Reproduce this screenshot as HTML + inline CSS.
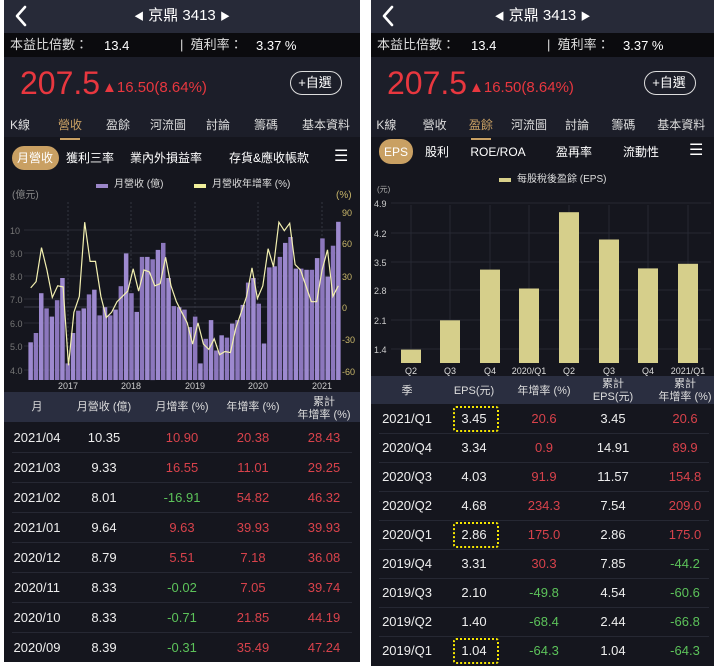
<!DOCTYPE html>
<html><head><meta charset="utf-8">
<style>
body{margin:0;width:719px;height:668px;background:#fff;position:relative;overflow:hidden;font-family:"Liberation Sans","Noto Sans CJK TC",sans-serif;}
.p{position:absolute;background:#15161e;overflow:hidden;}
.t{position:absolute;white-space:nowrap;line-height:1;}
.c{transform:translateX(-50%);text-align:center;}
</style></head><body>
<div id="L" class="p" style="left:4px;top:0;width:356px;height:662px"></div>
<div id="R" class="p" style="left:371px;top:0;width:343px;height:666px"></div>
<script>
function el(par,html,css,cls){var d=document.createElement('div');d.className='t '+(cls||'');d.innerHTML=html;d.style.cssText=css;par.appendChild(d);return d;}
function box(par,css){var d=document.createElement('div');d.style.cssText='position:absolute;'+css;par.appendChild(d);return d;}
function header(P,W,active){
 box(P,'left:0;top:0;width:'+W+'px;height:33px;background:#272a38');
 P.insertAdjacentHTML('beforeend','<svg width="20" height="24" style="position:absolute;left:8px;top:4px"><polyline points="13,3 5,12 13,21" fill="none" stroke="#fff" stroke-width="2.6" stroke-linecap="round" stroke-linejoin="round"/></svg>');
 el(P,'<span style="font-size:10px">◀</span> 京鼎 3413 <span style="font-size:10px">▶</span>','left:'+(W/2)+'px;top:8px;font-size:15px;color:#fff','c');
 box(P,'left:0;top:33px;width:'+W+'px;height:24px;background:#0b0b0e');
 el(P,'本益比倍數：','left:6px;top:38px;font-size:13px;color:#ddd');
 el(P,'13.4','left:100px;top:39px;font-size:13px;color:#fff');
 el(P,'|&nbsp; 殖利率：','left:176px;top:38px;font-size:13px;color:#ddd');
 el(P,'3.37 %','left:252px;top:39px;font-size:13px;color:#fff');
 box(P,'left:0;top:57px;width:'+W+'px;height:80px;background:#1c1e29');
 el(P,'207.5','left:16px;top:67px;font-size:32px;color:#e8373f');
 el(P,'▲16.50(8.64%)','left:98px;top:80px;font-size:15px;color:#e8373f');
 box(P,'left:'+(W-70)+'px;top:71px;width:50px;height:22px;border:1px solid #ddd;border-radius:12px');
 el(P,'+自選','left:'+(W-45)+'px;top:76px;font-size:13px;color:#fff','c');
 var xs=[16,66,114,164,214,262,322];
 var names=['K線','營收','盈餘','河流圖','討論','籌碼','基本資料'];
 for(var i=0;i<7;i++){var sx=xs[i]*(W/356);el(P,names[i],'left:'+sx+'px;top:119px;font-size:12px;color:'+(i==active?'#c9a063':'#ddd'),'c');
  if(i==active)box(P,'left:'+(sx-10)+'px;top:138px;width:20px;height:2px;background:#c9a063');}
}
var L=document.getElementById('L'),R=document.getElementById('R');
header(L,356,1);header(R,343,2);
box(L,'left:8px;top:146px;width:47px;height:24px;border-radius:12px;background:#c9a063');
el(L,'月營收','left:31px;top:152px;font-size:12px;color:#fff','c');
el(L,'獲利三率','left:86px;top:152px;font-size:12px;color:#fff','c');
el(L,'業內外損益率','left:162px;top:152px;font-size:12px;color:#fff','c');
el(L,'存貨&amp;應收帳款','left:265px;top:152px;font-size:12px;color:#fff','c');
el(L,'☰','left:330px;top:149px;font-size:16px;color:#fff');
el(R,'☰','left:318px;top:143px;font-size:16px;color:#fff');
box(R,'left:8px;top:139px;width:34px;height:25px;border-radius:12px;background:#c9a063');
el(R,'EPS','left:25px;top:146px;font-size:12px;color:#fff','c');
el(R,'股利','left:66px;top:146px;font-size:12px;color:#fff','c');
el(R,'ROE/ROA','left:127px;top:146px;font-size:12px;color:#fff','c');
el(R,'盈再率','left:203px;top:146px;font-size:12px;color:#fff','c');
el(R,'流動性','left:270px;top:146px;font-size:12px;color:#fff','c');
box(L,'left:0;top:172px;width:356px;height:220px;background:#15161e');
box(L,'left:92px;top:184px;width:12px;height:4px;background:#9b86c9');
el(L,'月營收 (億)','left:110px;top:180px;font-size:10px;color:#ddd');
box(L,'left:190px;top:184px;width:12px;height:4px;background:#f0ef9a');
el(L,'月營收年增率 (%)','left:208px;top:180px;font-size:10px;color:#ddd');
el(L,'(億元)','left:8px;top:191px;font-size:10px;color:#888');
el(L,'(%)','left:332px;top:191px;font-size:10px;color:#c9b76a');
var s='<svg width="356" height="220" style="position:absolute;left:0;top:172px" xmlns="http://www.w3.org/2000/svg">';
var ly=[['10',230],['9.0',253],['8.0',276],['7.0',299],['6.0',323],['5.0',346],['4.0',370]];
ly.forEach(function(a){s+='<line x1="20" x2="336" y1="'+(a[1]-172)+'" y2="'+(a[1]-172)+'" stroke="#2a2c36" stroke-width="1"/><text x="6" y="'+(a[1]-168)+'" font-size="9" fill="#777" font-family="Liberation Sans">'+a[0]+'</text>';});
var ry=[['90',212],['60',243],['30',276],['0',307],['-30',339],['-60',371]];
ry.forEach(function(a){s+='<text x="338" y="'+(a[1]-168)+'" font-size="9" fill="#c9b76a" font-family="Liberation Sans">'+a[0]+'</text>';});
s+='<line x1="20" x2="336" y1="'+(307-172)+'" y2="'+(307-172)+'" stroke="#3a3c48"/>';
[['2017',64],['2018',127],['2019',191],['2020',254],['2021',318]].forEach(function(a){s+='<line x1="'+a[1]+'" x2="'+a[1]+'" y1="30" y2="208" stroke="#333540" stroke-dasharray="2,2"/><text x="'+a[1]+'" y="217" text-anchor="middle" font-size="9" fill="#ccc" font-family="Liberation Sans">'+a[0]+'</text>';});
var bv=[5.2,5.6,7.3,6.65,6.3,7.0,7.95,4.3,5.6,6.55,6.65,7.25,7.45,6.35,6.7,6.35,6.6,7.6,9.0,7.3,6.5,8.85,8.85,8.75,9.15,9.45,7.95,6.75,6.7,6.6,5.85,6.3,4.3,5.35,6.15,4.85,5.5,5.4,6.0,6.15,6.8,7.75,7.95,6.85,5.15,8.4,8.45,8.85,9.45,9.7,8.35,8.35,8.3,8.3,8.8,9.64,8.01,9.33,10.35];
var n=bv.length,st=313/n,base=380-172;
bv.forEach(function(v,i){var y=230+(10-v)*23.4-172;s+='<rect x="'+(24+i*st+0.4).toFixed(1)+'" y="'+y.toFixed(1)+'" width="'+(st-0.8).toFixed(1)+'" height="'+(base-y).toFixed(1)+'" fill="'+(i%2?'#8c77bd':'#9d89cf')+'"/>';});
var lv=[18,24,56,35,9,20,19,-55,-5,10,80,43,43,10,-10,-5,5,10,15,36,15,35,33,20,22,47,20,5,-5,-15,-35,-15,-35,-40,-30,-45,-42,-43,-20,-5,10,37,8,20,55,38,80,72,79,40,35,20,5,5,35,54,10,20];
var pts=lv.map(function(p,i){return (24+(i+0.5)*(313/lv.length)).toFixed(1)+','+(307-p*1.06-172).toFixed(1);}).join(' ');
s+='<polyline points="'+pts+'" fill="none" stroke="#f3f0b0" stroke-width="1.2"/></svg>';
L.insertAdjacentHTML('beforeend',s);
box(L,'left:0;top:392px;width:356px;height:30px;background:#2a2e40');
var lc=[37,104,182,253,324];
['月','月營收 (億)','月增率 (%)','年增率 (%)'].forEach(function(h,i){el(L,h,'left:'+(lc[i]-4)+'px;top:402px;font-size:11px;color:#ddd','c');});
el(L,'累計<br>年增率 (%)','left:320px;top:396px;font-size:11px;color:#ddd;line-height:13px','c');
var RED='#d8424b',GRN='#5cc25a',WH='#eee';
var ld=[['2021/04','10.35','10.90','20.38','28.43'],['2021/03','9.33','16.55','11.01','29.25'],['2021/02','8.01','-16.91','54.82','46.32'],['2021/01','9.64','9.63','39.93','39.93'],['2020/12','8.79','5.51','7.18','36.08'],['2020/11','8.33','-0.02','7.05','39.74'],['2020/10','8.33','-0.71','21.85','44.19'],['2020/09','8.39','-0.31','35.49','47.24']];
ld.forEach(function(r,j){var y=422+j*30;if(j)box(L,'left:8px;top:'+y+'px;width:340px;height:1px;background:#262833');
 r.forEach(function(v,i){var col=i<2?WH:(v.charAt(0)=='-'?GRN:RED);el(L,v,'left:'+(lc[i]-4)+'px;top:'+(y+9)+'px;font-size:13px;color:'+col,'c');});});
box(R,'left:128px;top:178px;width:12px;height:4px;background:#d8d08a');
el(R,'每股稅後盈餘 (EPS)','left:146px;top:175px;font-size:10px;color:#ddd');
el(R,'(元)','left:6px;top:186px;font-size:8px;color:#aaa');
var t='<svg width="343" height="200" style="position:absolute;left:0;top:195px" xmlns="http://www.w3.org/2000/svg">';
[['4.9',203],['4.2',233],['3.5',262],['2.8',290],['2.1',320],['1.4',349]].forEach(function(a){t+='<line x1="20" x2="340" y1="'+(a[1]-195)+'" y2="'+(a[1]-195)+'" stroke="#262833"/><text x="3" y="'+(a[1]-191)+'" font-size="9" fill="#ccc" font-family="Liberation Sans">'+a[0]+'</text>';});
var bc=[40,79,119,158,198,238,277,317],ev=[1.40,2.10,3.31,2.86,4.68,4.03,3.34,3.45],xl=['Q2','Q3','Q4','2020/Q1','Q2','Q3','Q4','2021/Q1'];
bc.forEach(function(x,i){var y=203+(4.9-ev[i])*41.9-195;t+='<line x1="'+x+'" x2="'+x+'" y1="10" y2="168" stroke="#262833"/><rect x="'+(x-10)+'" y="'+y.toFixed(1)+'" width="20" height="'+(168-y).toFixed(1)+'" fill="#d6cf8b"/><text x="'+x+'" y="179" text-anchor="middle" font-size="9" fill="#ddd" font-family="Liberation Sans">'+xl[i]+'</text>';});
t+='</svg>';R.insertAdjacentHTML('beforeend',t);
box(R,'left:0;top:376px;width:343px;height:28px;background:#2a2e40');
el(R,'季','left:36px;top:386px;font-size:11px;color:#ddd','c');
el(R,'EPS(元)','left:103px;top:386px;font-size:11px;color:#ddd','c');
el(R,'年增率 (%)','left:173px;top:386px;font-size:11px;color:#ddd','c');
el(R,'累計<br>EPS(元)','left:242px;top:378px;font-size:11px;color:#ddd;line-height:13px','c');
el(R,'累計<br>年增率 (%)','left:314px;top:378px;font-size:11px;color:#ddd;line-height:13px','c');
var rd=[['2021/Q1','3.45','20.6','3.45','20.6'],['2020/Q4','3.34','0.9','14.91','89.9'],['2020/Q3','4.03','91.9','11.57','154.8'],['2020/Q2','4.68','234.3','7.54','209.0'],['2020/Q1','2.86','175.0','2.86','175.0'],['2019/Q4','3.31','30.3','7.85','-44.2'],['2019/Q3','2.10','-49.8','4.54','-60.6'],['2019/Q2','1.40','-68.4','2.44','-66.8'],['2019/Q1','1.04','-64.3','1.04','-64.3']];
var rc=[36,103,173,242,314];
rd.forEach(function(r,j){var y=404+j*29;if(j)box(R,'left:8px;top:'+y+'px;width:330px;height:1px;background:#262833');
 r.forEach(function(v,i){var col=(i==0||i==1||i==3)?WH:(v.charAt(0)=='-'?GRN:RED);el(R,v,'left:'+rc[i]+'px;top:'+(y+8)+'px;font-size:13px;color:'+col,'c');});
 if(j==0||j==4||j==8)box(R,'left:82px;top:'+(y+2)+'px;width:42px;height:22px;border:2px dotted #f5e600;border-radius:3px');});
</script>
</body></html>
